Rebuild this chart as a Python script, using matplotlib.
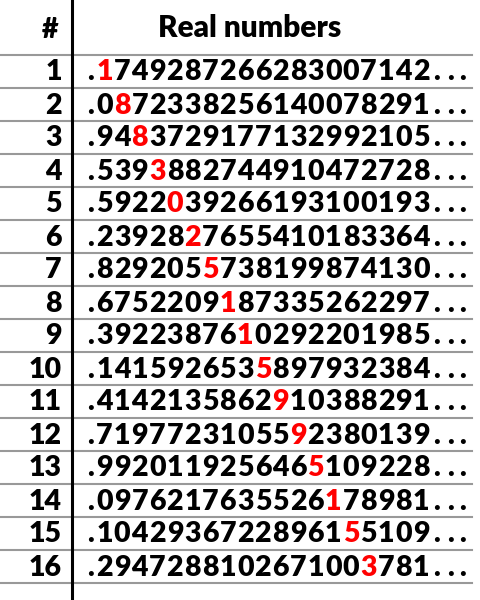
import matplotlib
matplotlib.use("Agg")
import matplotlib.pyplot as plt

row_labels = [str(i) for i in range(1, 17)]
numbers = [
    "1749287266283007142",
    "0872338256140078291",
    "9483729177132992105",
    "5393882744910472728",
    "5922039266193100193",
    "2392827655410183364",
    "8292055738199874130",
    "6752209187335262297",
    "3922387610292201985",
    "1415926535897932384",
    "4142135862910388291",
    "7197723105592380139",
    "9920119256465109228",
    "0976217635526178981",
    "1042936722896155109",
    "2947288102671003781",
]

fig = plt.figure(figsize=(4.8, 6), dpi=100)
ax = fig.add_axes([0, 0, 1, 1])
ax.set_xlim(0, 480)
ax.set_ylim(600, 0)
ax.axis("off")

font = dict(family=["Lato", "DejaVu Sans"], fontweight="heavy", fontsize=20.5)
top = 55
h = 33
ax.plot([72, 72], [0, 600], color="black", lw=2.2)
for i in range(17):
    y = top + i * h
    ax.plot([0, 472], [y, y], color="#999999", lw=1.5, zorder=0)

ax.text(58, 30, "#", ha="right", va="center", **font)
ax.text(250, 28, "Real numbers", ha="center", va="center",
        **{**font, "fontsize": 21.5})

pitch = 17.6
x0 = 104.5
for i, (lab, num) in enumerate(zip(row_labels, numbers)):
    yc = top + i * h + h / 2 + 1
    ax.text(62, yc, lab, ha="right", va="center", **font)
    ax.text(91, yc, ".", ha="center", va="center", **font)
    for j, ch in enumerate(num):
        ax.text(x0 + j * pitch, yc, ch, ha="center", va="center",
                color="red" if j == i else "black", **font)
    for k in range(3):
        ax.text(437 + k * 13, yc, ".", ha="center", va="center", **font)

fig.savefig("out.png", dpi=100)
